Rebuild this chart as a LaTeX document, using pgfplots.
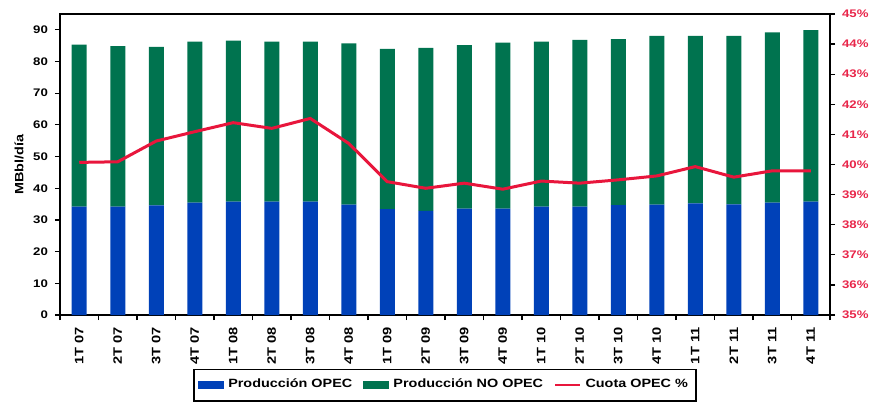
\documentclass[border=0pt]{standalone}
\usepackage{pgfplots}
\pgfplotsset{compat=1.18}
\usepackage{fontspec}
\setmainfont{Liberation Sans}[FakeStretch=1.2]
\usetikzlibrary{calc}

\definecolor{opec}{HTML}{0041B8}
\definecolor{noopec}{HTML}{00734F}
\definecolor{cuota}{HTML}{E8163C}
\definecolor{rlab}{HTML}{E8264A}

\pgfplotsset{
  base/.style={
    scale only axis, width=385pt, height=150.5pt,
    xmin=-0.5, xmax=19.5,
    font=\fontsize{5.5}{6.5}\selectfont\bfseries,
    /pgf/number format/assume math mode=true,
    axis line style={black, line width=0.75pt},
    tick style={black, line width=0.6pt},
    tick align=outside, major tick length=2.5pt,
  },
}

\begin{document}
\begin{tikzpicture}
\begin{axis}[base, name=ax,
  ybar stacked, bar width=7.5pt,
  ymin=0, ymax=95, ytick={0,10,...,90}, ytick pos=left,
  xtick={-0.5,0.5,...,19.5}, xtick pos=bottom,
  x tick label as interval,
  xticklabels={1T 07,2T 07,3T 07,4T 07,1T 08,2T 08,3T 08,4T 08,1T 09,2T 09,
               3T 09,4T 09,1T 10,2T 10,3T 10,4T 10,1T 11,2T 11,3T 11,4T 11},
  xticklabel style={rotate=90, anchor=east, inner xsep=3.5pt,
                    font=\fontsize{6.1}{7}\selectfont\bfseries},
  ylabel={MBbl/día},
  ylabel style={at={(axis description cs:-0.053,0.5)}, anchor=center, rotate=0,
                font=\fontsize{6}{7}\selectfont\bfseries},
]
% OPEC production
\addplot[fill=opec, draw=none] coordinates {
 (0,34.2) (1,34.2) (2,34.6) (3,35.5) (4,35.8) (5,35.8) (6,35.8) (7,34.8)
 (8,33.4) (9,32.9) (10,33.6) (11,33.6) (12,34.2) (13,34.2) (14,34.7) (15,34.8)
 (16,35.2) (17,34.9) (18,35.5) (19,35.8)};
% non-OPEC production (total minus OPEC)
\addplot[fill=noopec, draw=none] coordinates {
 (0,51.1) (1,50.7) (2,50.0) (3,50.8) (4,50.8) (5,50.5) (6,50.5) (7,50.9)
 (8,50.6) (9,51.4) (10,51.6) (11,52.4) (12,52.1) (13,52.6) (14,52.4) (15,53.3)
 (16,52.9) (17,53.2) (18,53.7) (19,54.1)};
\end{axis}

\begin{axis}[base,
  ymin=35, ymax=45, ytick={35,36,...,45},
  axis y line*=right, axis x line=none,
  yticklabel={\pgfmathprintnumber{\tick}\%},
  yticklabel style={text=rlab},
  legend columns=3,
  legend style={at={(0.5,-0.178)}, anchor=north, draw=black, line width=0.6pt,
    font=\fontsize{6}{7}\selectfont\bfseries, inner xsep=2pt, inner ysep=3pt,
    /tikz/every even column/.append style={column sep=3.5pt}},
]
\addlegendimage{legend image code/.code={\fill[opec] (0pt,-1.75pt) rectangle (12.5pt,1.75pt);}}
\addlegendentry{Producción OPEC}
\addlegendimage{legend image code/.code={\fill[noopec] (0pt,-1.75pt) rectangle (12.5pt,1.75pt);}}
\addlegendentry{Producción NO OPEC}
\addplot[cuota, line width=1.5pt, mark=none,
  legend image code/.code={\draw[cuota, line width=1.2pt] (0pt,0pt) -- (12.5pt,0pt);}]
 coordinates {
 (0,40.07) (1,40.09) (2,40.78) (3,41.09) (4,41.39) (5,41.20) (6,41.53) (7,40.70)
 (8,39.43) (9,39.21) (10,39.38) (11,39.18) (12,39.45) (13,39.38) (14,39.49) (15,39.62)
 (16,39.93) (17,39.58) (18,39.79) (19,39.79)};
\addlegendentry{Cuota OPEC \%}
\end{axis}

\pgfresetboundingbox
\useasboundingbox ($(ax.south west)+(-30pt,-43pt)$) rectangle ($(ax.north east)+(19.5pt,7pt)$);
\end{tikzpicture}
\end{document}
